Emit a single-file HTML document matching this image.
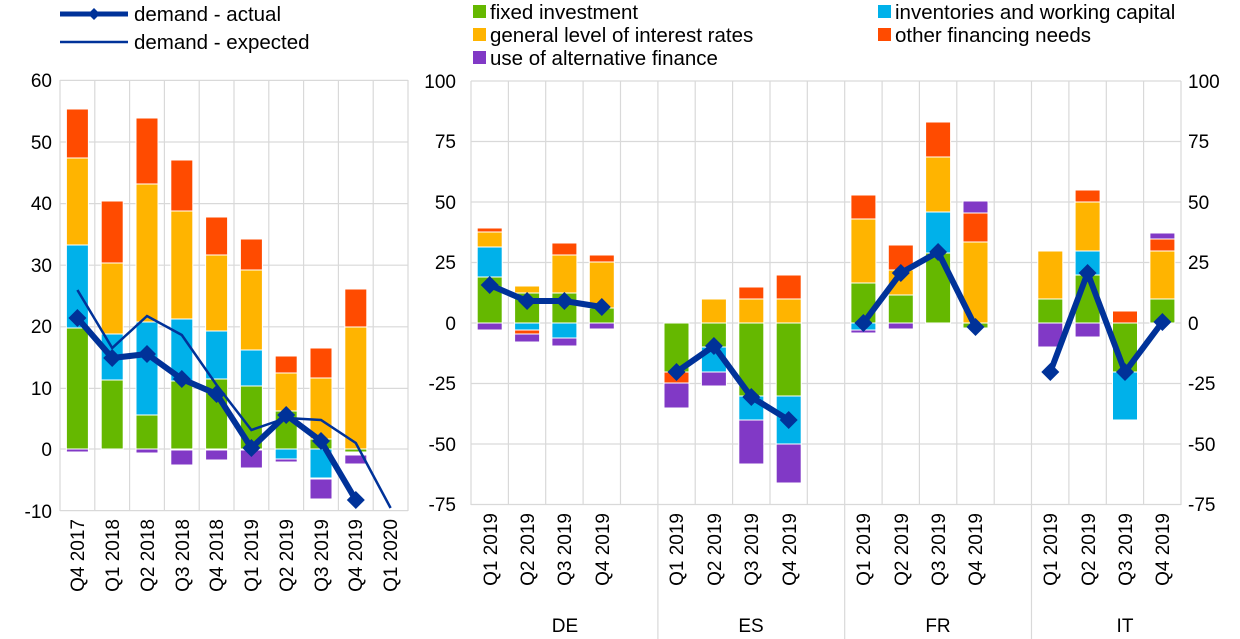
<!DOCTYPE html>
<html><head><meta charset="utf-8"><style>
body{margin:0;background:#fff;}
svg{display:block;font-family:"Liberation Sans",sans-serif;}
text{fill:#000;font-size:19px;}
text.lg{font-size:20.5px;}
</style></head><body>
<svg width="1240" height="639" viewBox="0 0 1240 639">
<g stroke="#d9d9d9" stroke-width="1.2">
<line x1="60" x2="408" y1="80.4" y2="80.4"/><line x1="60" x2="408" y1="142" y2="142"/><line x1="60" x2="408" y1="203.6" y2="203.6"/><line x1="60" x2="408" y1="265.2" y2="265.2"/><line x1="60" x2="408" y1="326.8" y2="326.8"/><line x1="60" x2="408" y1="388.4" y2="388.4"/><line x1="60" x2="408" y1="449" y2="449"/><line x1="60" x2="408" y1="510.6" y2="510.6"/>
<line x1="60" x2="60" y1="80" y2="511"/><line x1="94.8" x2="94.8" y1="80" y2="511"/><line x1="129.6" x2="129.6" y1="80" y2="511"/><line x1="164.4" x2="164.4" y1="80" y2="511"/><line x1="199.2" x2="199.2" y1="80" y2="511"/><line x1="234" x2="234" y1="80" y2="511"/><line x1="268.8" x2="268.8" y1="80" y2="511"/><line x1="303.6" x2="303.6" y1="80" y2="511"/><line x1="338.4" x2="338.4" y1="80" y2="511"/><line x1="373.2" x2="373.2" y1="80" y2="511"/><line x1="408" x2="408" y1="80" y2="511"/>
</g>
<g stroke="#d9d9d9" stroke-width="1.2">
<line x1="471" x2="1181" y1="81" y2="81"/><line x1="471" x2="1181" y1="141.5" y2="141.5"/><line x1="471" x2="1181" y1="202" y2="202"/><line x1="471" x2="1181" y1="262.5" y2="262.5"/><line x1="471" x2="1181" y1="323" y2="323"/><line x1="471" x2="1181" y1="383.5" y2="383.5"/><line x1="471" x2="1181" y1="444" y2="444"/><line x1="471" x2="1181" y1="504.5" y2="504.5"/>
<line x1="471" x2="471" y1="81" y2="505"/><line x1="508.4" x2="508.4" y1="81" y2="505"/><line x1="545.7" x2="545.7" y1="81" y2="505"/><line x1="583.1" x2="583.1" y1="81" y2="505"/><line x1="620.5" x2="620.5" y1="81" y2="505"/><line x1="657.9" x2="657.9" y1="81" y2="639"/><line x1="695.2" x2="695.2" y1="81" y2="505"/><line x1="732.6" x2="732.6" y1="81" y2="505"/><line x1="770" x2="770" y1="81" y2="505"/><line x1="807.3" x2="807.3" y1="81" y2="505"/><line x1="844.7" x2="844.7" y1="81" y2="639"/><line x1="882.1" x2="882.1" y1="81" y2="505"/><line x1="919.4" x2="919.4" y1="81" y2="505"/><line x1="956.8" x2="956.8" y1="81" y2="505"/><line x1="994.2" x2="994.2" y1="81" y2="505"/><line x1="1031.5" x2="1031.5" y1="81" y2="639"/><line x1="1068.9" x2="1068.9" y1="81" y2="505"/><line x1="1106.3" x2="1106.3" y1="81" y2="505"/><line x1="1143.6" x2="1143.6" y1="81" y2="505"/><line x1="1181" x2="1181" y1="81" y2="505"/>
</g>
<g stroke="#fff" stroke-width="1">
<rect x="66.4" y="328" width="22" height="121" fill="#65b800"/><rect x="66.4" y="245" width="22" height="83" fill="#00b1ea"/><rect x="66.4" y="158" width="22" height="87" fill="#ffb400"/><rect x="66.4" y="109" width="22" height="49" fill="#ff4b00"/><rect x="66.4" y="449" width="22" height="3" fill="#8139c6"/>
<rect x="101.2" y="380" width="22" height="69" fill="#65b800"/><rect x="101.2" y="334" width="22" height="46" fill="#00b1ea"/><rect x="101.2" y="263" width="22" height="71" fill="#ffb400"/><rect x="101.2" y="201" width="22" height="62" fill="#ff4b00"/>
<rect x="136" y="415" width="22" height="34" fill="#65b800"/><rect x="136" y="322" width="22" height="93" fill="#00b1ea"/><rect x="136" y="184" width="22" height="138" fill="#ffb400"/><rect x="136" y="118" width="22" height="66" fill="#ff4b00"/><rect x="136" y="449" width="22" height="4" fill="#8139c6"/>
<rect x="170.8" y="381" width="22" height="68" fill="#65b800"/><rect x="170.8" y="319" width="22" height="62" fill="#00b1ea"/><rect x="170.8" y="211" width="22" height="108" fill="#ffb400"/><rect x="170.8" y="160" width="22" height="51" fill="#ff4b00"/><rect x="170.8" y="450" width="22" height="15" fill="#8139c6"/>
<rect x="205.6" y="379" width="22" height="70" fill="#65b800"/><rect x="205.6" y="331" width="22" height="48" fill="#00b1ea"/><rect x="205.6" y="255" width="22" height="76" fill="#ffb400"/><rect x="205.6" y="217" width="22" height="38" fill="#ff4b00"/><rect x="205.6" y="450" width="22" height="10" fill="#8139c6"/>
<rect x="240.4" y="386" width="22" height="63" fill="#65b800"/><rect x="240.4" y="350" width="22" height="36" fill="#00b1ea"/><rect x="240.4" y="270" width="22" height="80" fill="#ffb400"/><rect x="240.4" y="239" width="22" height="31" fill="#ff4b00"/><rect x="240.4" y="450" width="22" height="18" fill="#8139c6"/>
<rect x="275.2" y="411" width="22" height="38" fill="#65b800"/><rect x="275.2" y="373" width="22" height="38" fill="#ffb400"/><rect x="275.2" y="356" width="22" height="17" fill="#ff4b00"/><rect x="275.2" y="449" width="22" height="10" fill="#00b1ea"/><rect x="275.2" y="459" width="22" height="3" fill="#8139c6"/>
<rect x="310" y="439" width="22" height="10" fill="#65b800"/><rect x="310" y="378" width="22" height="61" fill="#ffb400"/><rect x="310" y="348" width="22" height="30" fill="#ff4b00"/><rect x="310" y="449" width="22" height="29" fill="#00b1ea"/><rect x="310" y="479" width="22" height="20" fill="#8139c6"/>
<rect x="344.8" y="449" width="22" height="3" fill="#65b800"/><rect x="344.8" y="327" width="22" height="122" fill="#ffb400"/><rect x="344.8" y="289" width="22" height="38" fill="#ff4b00"/><rect x="344.8" y="455" width="22" height="9" fill="#8139c6"/>
</g>
<polyline fill="none" stroke="#003299" stroke-width="2.5" points="77.4,290 112.2,348 147,316 181.8,335 216.6,385 251.4,430 286.2,418 321,420 355.8,443 390.6,508"/>
<polyline fill="none" stroke="#003299" stroke-width="6" points="77.4,318 112.2,358 147,354 181.8,379 216.6,394 251.4,448 286.2,415 321,441 355.8,500"/>
<g fill="#003299">
<path d="M77.4,309l9,9l-9,9l-9,-9z"/><path d="M112.2,349l9,9l-9,9l-9,-9z"/><path d="M147,345l9,9l-9,9l-9,-9z"/><path d="M181.8,370l9,9l-9,9l-9,-9z"/><path d="M216.6,385l9,9l-9,9l-9,-9z"/><path d="M251.4,439l9,9l-9,9l-9,-9z"/><path d="M286.2,406l9,9l-9,9l-9,-9z"/><path d="M321,432l9,9l-9,9l-9,-9z"/><path d="M355.8,491l9,9l-9,9l-9,-9z"/>
</g>
<g stroke="#fff" stroke-width="1">
<rect x="477.2" y="277" width="25" height="46" fill="#65b800"/><rect x="477.2" y="247" width="25" height="30" fill="#00b1ea"/><rect x="477.2" y="232" width="25" height="15" fill="#ffb400"/><rect x="477.2" y="228" width="25" height="4" fill="#ff4b00"/><rect x="477.2" y="323" width="25" height="7" fill="#8139c6"/>
<rect x="514.6" y="293" width="25" height="30" fill="#65b800"/><rect x="514.6" y="286" width="25" height="7" fill="#ffb400"/><rect x="514.6" y="323" width="25" height="7" fill="#00b1ea"/><rect x="514.6" y="330" width="25" height="4" fill="#ff4b00"/><rect x="514.6" y="334" width="25" height="8" fill="#8139c6"/>
<rect x="551.9" y="293" width="25" height="30" fill="#65b800"/><rect x="551.9" y="255" width="25" height="38" fill="#ffb400"/><rect x="551.9" y="243" width="25" height="12" fill="#ff4b00"/><rect x="551.9" y="323" width="25" height="15" fill="#00b1ea"/><rect x="551.9" y="338" width="25" height="8" fill="#8139c6"/>
<rect x="589.3" y="308" width="25" height="15" fill="#65b800"/><rect x="589.3" y="262" width="25" height="46" fill="#ffb400"/><rect x="589.3" y="255" width="25" height="7" fill="#ff4b00"/><rect x="589.3" y="323" width="25" height="6" fill="#8139c6"/>
<rect x="664" y="323" width="25" height="49" fill="#65b800"/><rect x="664" y="372" width="25" height="11" fill="#ff4b00"/><rect x="664" y="383" width="25" height="25" fill="#8139c6"/>
<rect x="701.4" y="299" width="25" height="24" fill="#ffb400"/><rect x="701.4" y="323" width="25" height="24" fill="#65b800"/><rect x="701.4" y="347" width="25" height="25" fill="#00b1ea"/><rect x="701.4" y="372" width="25" height="14" fill="#8139c6"/>
<rect x="738.8" y="299" width="25" height="24" fill="#ffb400"/><rect x="738.8" y="287" width="25" height="12" fill="#ff4b00"/><rect x="738.8" y="323" width="25" height="73" fill="#65b800"/><rect x="738.8" y="396" width="25" height="24" fill="#00b1ea"/><rect x="738.8" y="420" width="25" height="44" fill="#8139c6"/>
<rect x="776.2" y="299" width="25" height="24" fill="#ffb400"/><rect x="776.2" y="275" width="25" height="24" fill="#ff4b00"/><rect x="776.2" y="323" width="25" height="73" fill="#65b800"/><rect x="776.2" y="396" width="25" height="48" fill="#00b1ea"/><rect x="776.2" y="444" width="25" height="39" fill="#8139c6"/>
<rect x="850.9" y="283" width="25" height="40" fill="#65b800"/><rect x="850.9" y="219" width="25" height="64" fill="#ffb400"/><rect x="850.9" y="195" width="25" height="24" fill="#ff4b00"/><rect x="850.9" y="323" width="25" height="7" fill="#00b1ea"/><rect x="850.9" y="330" width="25" height="3" fill="#8139c6"/>
<rect x="888.3" y="295" width="25" height="28" fill="#65b800"/><rect x="888.3" y="270" width="25" height="25" fill="#ffb400"/><rect x="888.3" y="245" width="25" height="25" fill="#ff4b00"/><rect x="888.3" y="323" width="25" height="6" fill="#8139c6"/>
<rect x="925.6" y="253" width="25" height="70" fill="#65b800"/><rect x="925.6" y="212" width="25" height="41" fill="#00b1ea"/><rect x="925.6" y="157" width="25" height="55" fill="#ffb400"/><rect x="925.6" y="122" width="25" height="35" fill="#ff4b00"/>
<rect x="963" y="242" width="25" height="81" fill="#ffb400"/><rect x="963" y="213" width="25" height="29" fill="#ff4b00"/><rect x="963" y="201" width="25" height="12" fill="#8139c6"/><rect x="963" y="323" width="25" height="5" fill="#65b800"/>
<rect x="1037.8" y="299" width="25" height="24" fill="#65b800"/><rect x="1037.8" y="251" width="25" height="48" fill="#ffb400"/><rect x="1037.8" y="323" width="25" height="24" fill="#8139c6"/>
<rect x="1075.1" y="275" width="25" height="48" fill="#65b800"/><rect x="1075.1" y="251" width="25" height="24" fill="#00b1ea"/><rect x="1075.1" y="202" width="25" height="49" fill="#ffb400"/><rect x="1075.1" y="190" width="25" height="12" fill="#ff4b00"/><rect x="1075.1" y="323" width="25" height="14" fill="#8139c6"/>
<rect x="1112.5" y="311" width="25" height="12" fill="#ff4b00"/><rect x="1112.5" y="323" width="25" height="49" fill="#65b800"/><rect x="1112.5" y="372" width="25" height="48" fill="#00b1ea"/>
<rect x="1149.9" y="299" width="25" height="24" fill="#65b800"/><rect x="1149.9" y="251" width="25" height="48" fill="#ffb400"/><rect x="1149.9" y="239" width="25" height="12" fill="#ff4b00"/><rect x="1149.9" y="233" width="25" height="6" fill="#8139c6"/>
</g>
<g fill="none" stroke="#003299" stroke-width="6">
<polyline points="489.7,285 527.1,301 564.4,301 601.8,307"/>
<polyline points="676.5,372 713.9,346 751.3,397 788.7,420"/>
<polyline points="863.4,323 900.8,273 938.1,252 975.5,327"/>
<polyline points="1050.3,372 1087.6,273 1125,372 1162.4,322"/>
</g>
<g fill="#003299">
<path d="M489.7,276l9,9l-9,9l-9,-9z"/><path d="M527.1,292l9,9l-9,9l-9,-9z"/><path d="M564.4,292l9,9l-9,9l-9,-9z"/><path d="M601.8,298l9,9l-9,9l-9,-9z"/>
<path d="M676.5,363l9,9l-9,9l-9,-9z"/><path d="M713.9,337l9,9l-9,9l-9,-9z"/><path d="M751.3,388l9,9l-9,9l-9,-9z"/><path d="M788.7,411l9,9l-9,9l-9,-9z"/>
<path d="M863.4,314l9,9l-9,9l-9,-9z"/><path d="M900.8,264l9,9l-9,9l-9,-9z"/><path d="M938.1,243l9,9l-9,9l-9,-9z"/><path d="M975.5,318l9,9l-9,9l-9,-9z"/>
<path d="M1050.3,363l9,9l-9,9l-9,-9z"/><path d="M1087.6,264l9,9l-9,9l-9,-9z"/><path d="M1125,363l9,9l-9,9l-9,-9z"/><path d="M1162.4,313l9,9l-9,9l-9,-9z"/>
</g>
<g text-anchor="end">
<text x="52" y="87">60</text><text x="52" y="149">50</text><text x="52" y="210">40</text><text x="52" y="272">30</text><text x="52" y="333">20</text><text x="52" y="395">10</text><text x="52" y="456">0</text><text x="52" y="518">-10</text>
<text x="456" y="88">100</text><text x="456" y="148">75</text><text x="456" y="209">50</text><text x="456" y="269">25</text><text x="456" y="330">0</text><text x="456" y="390">-25</text><text x="456" y="451">-50</text><text x="456" y="511">-75</text>
</g>
<g text-anchor="start">
<text x="1188" y="88">100</text><text x="1188" y="148">75</text><text x="1188" y="209">50</text><text x="1188" y="269">25</text><text x="1188" y="330">0</text><text x="1188" y="390">-25</text><text x="1188" y="451">-50</text><text x="1188" y="511">-75</text>
</g>
<g text-anchor="end">
<text transform="translate(84,519) rotate(-90)">Q4 2017</text><text transform="translate(119,519) rotate(-90)">Q1 2018</text><text transform="translate(154,519) rotate(-90)">Q2 2018</text><text transform="translate(189,519) rotate(-90)">Q3 2018</text><text transform="translate(223,519) rotate(-90)">Q4 2018</text><text transform="translate(258,519) rotate(-90)">Q1 2019</text><text transform="translate(293,519) rotate(-90)">Q2 2019</text><text transform="translate(328,519) rotate(-90)">Q3 2019</text><text transform="translate(362,519) rotate(-90)">Q4 2019</text><text transform="translate(397,519) rotate(-90)">Q1 2020</text>
<text transform="translate(497,513) rotate(-90)">Q1 2019</text><text transform="translate(534,513) rotate(-90)">Q2 2019</text><text transform="translate(571,513) rotate(-90)">Q3 2019</text><text transform="translate(609,513) rotate(-90)">Q4 2019</text>
<text transform="translate(683,513) rotate(-90)">Q1 2019</text><text transform="translate(721,513) rotate(-90)">Q2 2019</text><text transform="translate(758,513) rotate(-90)">Q3 2019</text><text transform="translate(796,513) rotate(-90)">Q4 2019</text>
<text transform="translate(870,513) rotate(-90)">Q1 2019</text><text transform="translate(908,513) rotate(-90)">Q2 2019</text><text transform="translate(945,513) rotate(-90)">Q3 2019</text><text transform="translate(982,513) rotate(-90)">Q4 2019</text>
<text transform="translate(1057,513) rotate(-90)">Q1 2019</text><text transform="translate(1095,513) rotate(-90)">Q2 2019</text><text transform="translate(1132,513) rotate(-90)">Q3 2019</text><text transform="translate(1169,513) rotate(-90)">Q4 2019</text>
</g>
<g text-anchor="middle">
<text x="565" y="632">DE</text><text x="751" y="632">ES</text><text x="938" y="632">FR</text><text x="1125" y="632">IT</text>
</g>
<line x1="60" x2="128" y1="14" y2="14" stroke="#003299" stroke-width="5"/><path d="M94,8l6,6l-6,6l-6,-6z" fill="#003299"/>
<text class="lg" x="134" y="21">demand - actual</text>
<line x1="60" x2="128" y1="42" y2="42" stroke="#003299" stroke-width="2.5"/>
<text class="lg" x="134" y="49">demand - expected</text>
<rect x="473" y="5" width="13" height="13" fill="#65b800"/><text class="lg" x="490" y="19">fixed investment</text>
<rect x="473" y="28" width="13" height="13" fill="#ffb400"/><text class="lg" x="490" y="42">general level of interest rates</text>
<rect x="473" y="51" width="13" height="13" fill="#8139c6"/><text class="lg" x="490" y="65">use of alternative finance</text>
<rect x="878" y="5" width="13" height="13" fill="#00b1ea"/><text class="lg" x="895" y="19">inventories and working capital</text>
<rect x="878" y="28" width="13" height="13" fill="#ff4b00"/><text class="lg" x="895" y="42">other financing needs</text>
</svg>
</body></html>
